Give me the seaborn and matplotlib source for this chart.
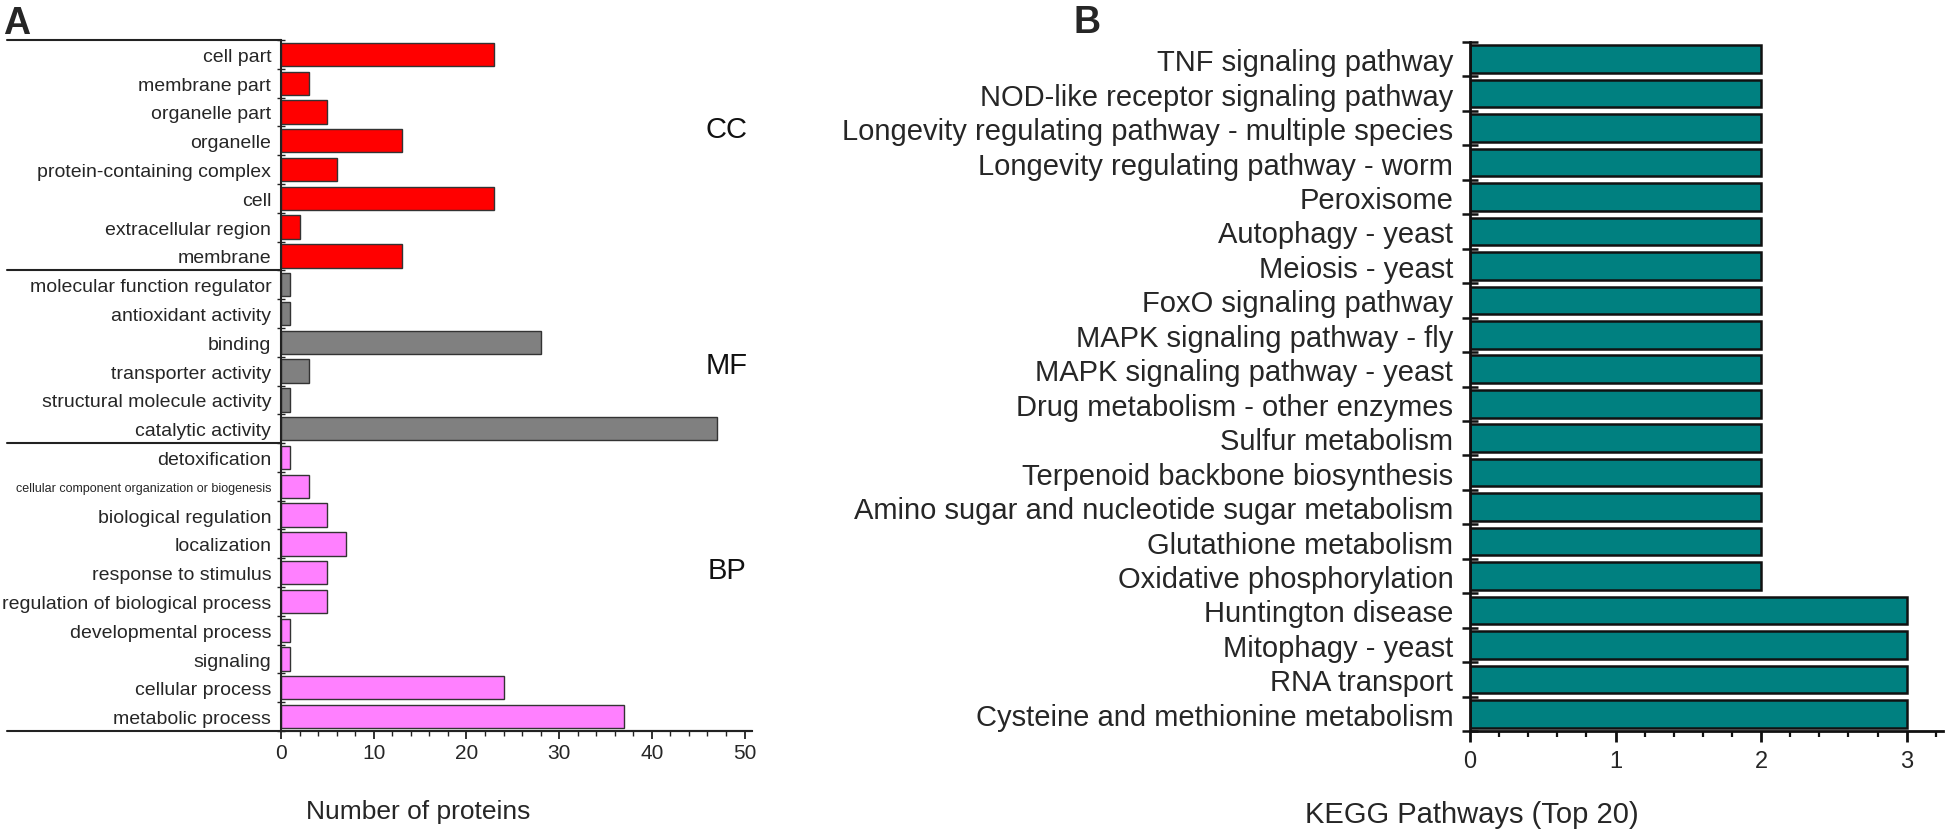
import matplotlib
matplotlib.use("Agg")
import matplotlib.pyplot as plt
import seaborn as sns
import pandas as pd
import numpy as np
from matplotlib.ticker import MultipleLocator, FixedLocator

# ---------------- data ----------------
go_terms = [
    "cell part", "membrane part", "organelle part", "organelle",
    "protein-containing complex", "cell", "extracellular region", "membrane",
    "molecular function regulator", "antioxidant activity", "binding",
    "transporter activity", "structural molecule activity", "catalytic activity",
    "detoxification", "cellular component organization or biogenesis",
    "biological regulation", "localization", "response to stimulus",
    "regulation of biological process", "developmental process", "signaling",
    "cellular process", "metabolic process",
]
go_counts = [23, 3, 5, 13, 6, 23, 2, 13,
             1, 1, 28, 3, 1, 47,
             1, 3, 5, 7, 5, 5, 1, 1, 24, 37]
go_groups = ["CC"] * 8 + ["MF"] * 6 + ["BP"] * 10
group_names = ["CC", "MF", "BP"]
group_colors = {"CC": "#FF0000", "MF": "#808080", "BP": "#FF80FF"}

kegg_paths = [
    "TNF signaling pathway", "NOD-like receptor signaling pathway",
    "Longevity regulating pathway - multiple species",
    "Longevity regulating pathway - worm", "Peroxisome", "Autophagy - yeast",
    "Meiosis - yeast", "FoxO signaling pathway", "MAPK signaling pathway - fly",
    "MAPK signaling pathway - yeast", "Drug metabolism - other enzymes",
    "Sulfur metabolism", "Terpenoid backbone biosynthesis",
    "Amino sugar and nucleotide sugar metabolism", "Glutathione metabolism",
    "Oxidative phosphorylation", "Huntington disease", "Mitophagy - yeast",
    "RNA transport", "Cysteine and methionine metabolism",
]
kegg_counts = [2, 2, 2, 2, 2, 2, 2, 2, 2, 2, 2, 2, 2, 2, 2, 2, 3, 3, 3, 3]

# ---------------- style ----------------
sns.set_theme(style="ticks")
plt.rcParams["font.family"] = ["Liberation Sans", "DejaVu Sans"]
plt.rcParams["axes.linewidth"] = 1.5

W, H = 1950, 837
fig = plt.figure(figsize=(W / 100, H / 100), dpi=100)

def frac_box(x0, x1, ytop, ybot):
    return [x0 / W, 1 - ybot / H, (x1 - x0) / W, (ybot - ytop) / H]

axA = fig.add_axes(frac_box(281, 752, 41, 732))
axB = fig.add_axes(frac_box(1470, 1943, 43, 732))

# ---------------- panel A ----------------
dfA = pd.DataFrame({"term": go_terms, "count": go_counts, "group": go_groups})
sns.barplot(data=dfA, x="count", y="term", hue="group", palette=group_colors,
            hue_order=group_names, dodge=False, legend=False, width=0.81,
            saturation=1, edgecolor="#333333", linewidth=1.0, orient="h", ax=axA)
axA.set_xlim(0, 50.8)
axA.set_ylim(len(go_terms) - 0.5, -0.5)
sns.despine(ax=axA, top=True, right=True)
axA.spines["left"].set_color("#222222")
axA.spines["bottom"].set_color("#222222")
axA.set_ylabel("")
axA.xaxis.set_major_locator(MultipleLocator(10))
axA.xaxis.set_minor_locator(MultipleLocator(2))
axA.tick_params(axis="x", which="major", direction="out", length=6, width=1.3,
                labelsize=15, pad=3, color="#222222", bottom=True)
axA.tick_params(axis="x", which="minor", direction="out", length=3.5, width=1.0,
                color="#222222", bottom=True)
axA.tick_params(axis="y", which="major", length=0, pad=7, labelsize=14, left=True)
axA.yaxis.set_minor_locator(FixedLocator(np.arange(len(go_terms) + 1) - 0.5))
axA.tick_params(axis="y", which="minor", direction="inout", length=6, width=1.0,
                color="#222222", left=True)
for lab in axA.get_yticklabels():
    if lab.get_text() == "cellular component organization or biogenesis":
        lab.set_fontsize(9)

# group separators (extend into label area)
bounds = [-0.5]
acc = -0.5
for g in group_names:
    acc += go_groups.count(g)
    bounds.append(acc)
xleft = (7 - 281) / (752 - 281)
tr = axA.get_yaxis_transform()
for b in bounds[:-1]:
    axA.plot([xleft, 0], [b, b], color="#222222", lw=1.5, transform=tr, clip_on=False)
axA.plot([xleft, 1], [bounds[-1], bounds[-1]], color="#222222", lw=1.5,
         transform=tr, clip_on=False)

group_label_y = {"CC": 2.6, "MF": 10.8, "BP": 17.9}
for g in group_names:
    axA.text(48.1, group_label_y[g], g, ha="center", va="center", fontsize=21,
             color="#111111")

axA.set_xlabel("Number of proteins", fontsize=19)
axA.xaxis.label.set_va("center")
axA.xaxis.set_label_coords((418 - 281) / (752 - 281), (732 - 812) / (732 - 41))

# ---------------- panel B ----------------
dfB = pd.DataFrame({"path": kegg_paths, "count": kegg_counts})
sns.barplot(data=dfB, x="count", y="path", color="#008080", saturation=1,
            width=0.8, edgecolor="#111111", linewidth=1.8, orient="h", ax=axB)
axB.set_xlim(0, 3.25)
axB.set_ylim(len(kegg_paths) - 0.5, -0.5)
sns.despine(ax=axB, top=True, right=True)
axB.spines["left"].set_linewidth(2)
axB.spines["bottom"].set_linewidth(2)
axB.spines["left"].set_color("#111111")
axB.spines["bottom"].set_color("#111111")
axB.set_ylabel("")
axB.xaxis.set_major_locator(MultipleLocator(1))
axB.xaxis.set_minor_locator(MultipleLocator(0.2))
axB.tick_params(axis="x", which="major", direction="out", length=8, width=2,
                labelsize=17, pad=6, color="#111111", bottom=True)
axB.tick_params(axis="x", which="minor", direction="out", length=4, width=1.6,
                color="#111111", bottom=True)
axB.tick_params(axis="y", which="major", length=0, pad=12, labelsize=21, left=True)
axB.yaxis.set_minor_locator(FixedLocator(np.arange(len(kegg_paths) + 1) - 0.5))
axB.tick_params(axis="y", which="minor", direction="inout", length=12, width=1.8,
                color="#111111", left=True)
axB.set_xlabel("KEGG Pathways (Top 20)", fontsize=21)
axB.xaxis.label.set_va("center")
axB.xaxis.set_label_coords((1472 - 1470) / (1943 - 1470), (732 - 815) / (732 - 43))

# ---------------- panel letters ----------------
fig.text(3 / W, 1 - 6 / H, "A", fontsize=27, fontweight="bold", ha="left", va="top")
fig.text(1074 / W, 1 - 5 / H, "B", fontsize=27, fontweight="bold", ha="left", va="top")

fig.savefig("out.png", dpi=100, facecolor="white")
